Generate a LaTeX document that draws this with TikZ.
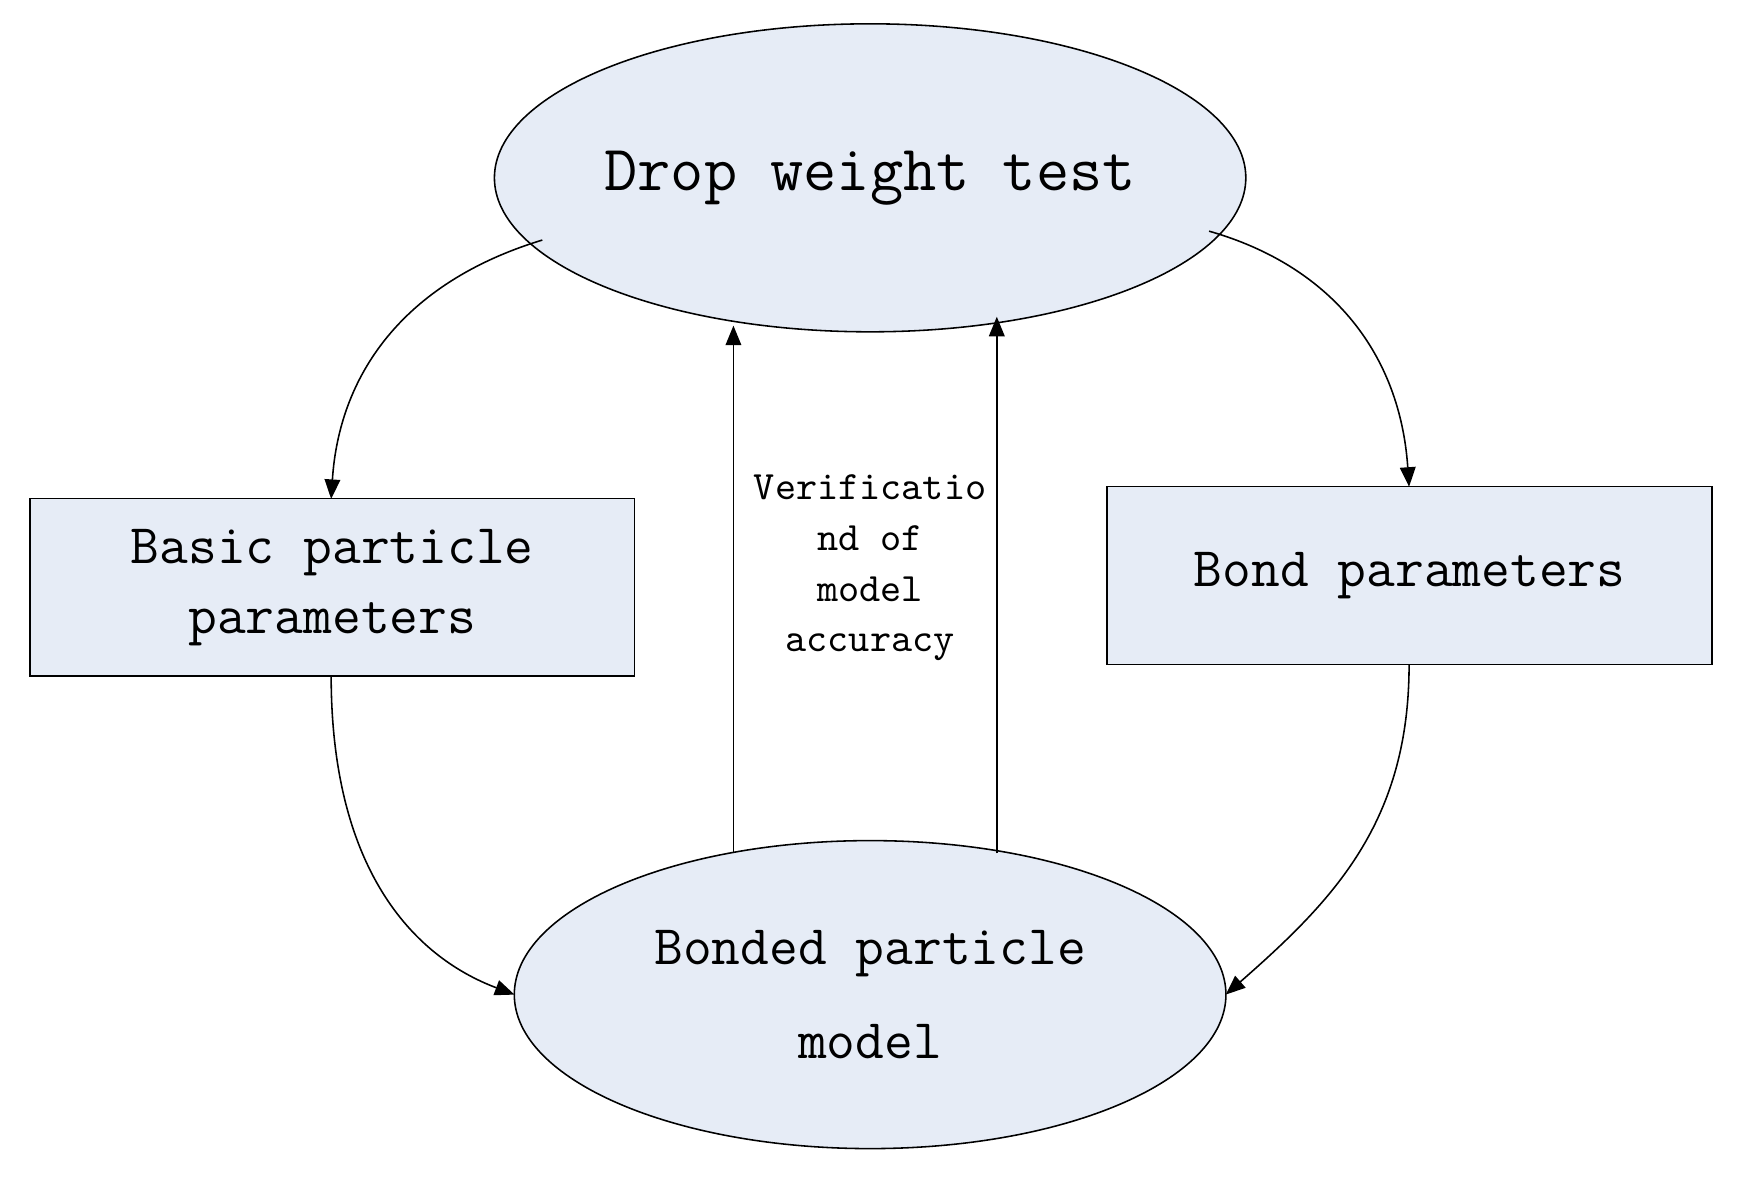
\documentclass[tikz,border=0pt]{standalone}
\usepackage{fontspec}
\setmonofont{Latin Modern Mono}
\usetikzlibrary{arrows.meta,shapes.geometric}
\definecolor{nodefill}{HTML}{E6ECF6}
\begin{document}
\begin{tikzpicture}[x=0.01cm,y=-0.01cm,
  ell/.style={ellipse,draw,fill=nodefill,minimum width=640\pgflinewidth*0+6.4cm,minimum height=2.77cm,inner sep=0pt,font=\ttfamily,align=center},
  boxn/.style={rectangle,draw,fill=nodefill,minimum width=5.44cm,minimum height=1.6cm,inner sep=0pt,font=\ttfamily\fontsize{14.3}{18}\selectfont,align=center},
  arr/.style={-{Triangle[length=5pt,width=4pt]},thin}]
\useasboundingbox (0,0) rectangle (1564,1059);
\node[ell,font=\ttfamily\fontsize{16.5}{20}\selectfont] (top) at (783,160) {Drop weight test};
\node[ell,font=\ttfamily\fontsize{14.3}{24}\selectfont] (bot) at (783,895) {Bonded particle\\model};
\node[boxn] (left) at (299,528.5) {Basic particle\\parameters};
\node[boxn] (right) at (1268.5,518) {Bond parameters};
\node[font=\ttfamily\fontsize{10.3}{13}\selectfont,align=center] (lab) at (783,511) {Verificatio\\nd of\\model\\accuracy};
\coordinate (t1) at (488,216);
\coordinate (t2) at (1088,208);
\coordinate (lt) at (298,449);
\coordinate (rt) at (1268,438);
\coordinate (lb) at (298,608);
\coordinate (rb) at (1268,598);
\coordinate (b1) at (463,895);
\coordinate (b2) at (1103,895);
\coordinate (v1s) at (660,768);
\coordinate (v1e) at (660,293);
\coordinate (v2s) at (897,768);
\coordinate (v2e) at (897,285);
\draw[arr] (t1) .. controls (360,255) and (305,340) .. (lt);
\draw[arr] (t2) .. controls (1200,240) and (1260,320) .. (rt);
\draw[arr] (lb) .. controls (298,780) and (370,860) .. (b1);
\draw[arr] (rb) .. controls (1268,740) and (1200,810) .. (b2);
\draw[arr] (v1s) -- (v1e);
\draw[arr] (v2s) -- (v2e);
\end{tikzpicture}
\end{document}
